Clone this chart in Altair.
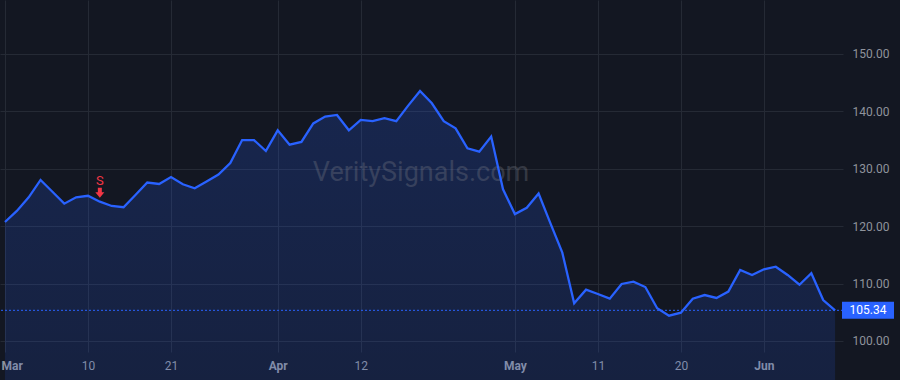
import altair as alt
import pandas as pd

# ---- data ----
prices = [120.73, 122.65, 125.03, 128.05, 126.0, 123.92, 125.03, 125.3, 124.27, 123.52,
          123.3, 125.44, 127.6, 127.35, 128.57, 127.3, 126.6, 127.8, 128.98, 131.0,
          135.0, 135.0, 133.1, 136.7, 134.2, 134.67, 137.9, 139.1, 139.37, 136.7,
          138.5, 138.3, 138.8, 138.3, 141.0, 143.55, 141.4, 138.3, 137.05, 133.57,
          132.98, 135.6, 126.43, 122.1, 123.2, 125.7, 120.5, 115.38, 106.57, 108.94,
          108.19, 107.37, 109.93, 110.33, 109.4, 105.7, 104.4, 104.93, 107.37, 108.0,
          107.5, 108.6, 112.37, 111.5, 112.49, 112.94, 111.5, 109.8, 111.8, 107.14,
          105.34]
tick_idx = [0, 7, 14, 23, 30, 43, 50, 57, 64]
tick_labels = ["Mar", "10", "21", "Apr", "12", "May", "11", "20", "Jun"]
month_labels = ["Mar", "Apr", "May", "Jun"]
y_ticks = [100, 110, 120, 130, 140, 150]
last_price = 105.34
signal_idx = [8]
signal_text = ["S"]
watermark = ["VeritySignals.com"]

# ---- styling ----
BG = "#131722"
GRID = "#252a35"
LINE = "#2962FF"
RED = "#f23645"
TXT = "#8f939c"
FONT = "Roboto"

df = pd.DataFrame({"i": list(range(len(prices))), "price": prices})
sig = pd.DataFrame({"i": signal_idx,
                    "price": [prices[k] for k in signal_idx],
                    "label": signal_text})
last_df = pd.DataFrame({"price": [last_price], "label": [f"{last_price:.2f}"]})
wm_df = pd.DataFrame({"label": watermark})

label_expr = " : ".join(f"datum.value == {v} ? '{t}'" for v, t in zip(tick_idx, tick_labels)) + " : ''"
bold_test = " || ".join(f"datum.value == {v}" for v, t in zip(tick_idx, tick_labels) if t in month_labels)

x_scale = alt.Scale(domain=[-0.42, 70.67], nice=False, zero=False)
y_scale = alt.Scale(domain=[98.08, 159.4], nice=False, zero=False)

x_enc = alt.X("i:Q", scale=x_scale, title=None,
              axis=alt.Axis(values=tick_idx, labelExpr=label_expr, grid=True,
                            gridColor=GRID, ticks=False, domain=False,
                            labelColor=TXT, labelFont=FONT, labelFontSize=12,
                            labelPadding=8,
                            labelFontWeight={"condition": {"test": bold_test, "value": "bold"},
                                             "value": "normal"},
                            labelFlush=6, labelFlushOffset=4))
y_enc = alt.Y("price:Q", scale=y_scale, title=None,
              axis=alt.Axis(orient="right", values=y_ticks, format=".2f", grid=True,
                            gridColor=GRID, ticks=False, domain=False,
                            labelColor=TXT, labelFont=FONT, labelFontSize=12,
                            labelPadding=9))

grad = alt.Gradient(gradient="linear",
                    stops=[alt.GradientStop(color="rgba(41,98,255,0.20)", offset=0),
                           alt.GradientStop(color="rgba(41,98,255,0.02)", offset=1)],
                    x1=1, x2=1, y1=0, y2=1)

area = alt.Chart(df).mark_area(color=grad).encode(x=x_enc, y=y_enc)

wm = alt.Chart(wm_df).mark_text(font=FONT, fontSize=27, color="#787b86", opacity=0.33,
                                align="center", baseline="alphabetic").encode(
    x=alt.value(421), y=alt.value(181), text="label:N")

line = alt.Chart(df).mark_line(color=LINE, strokeWidth=2.3).encode(x=x_enc, y=y_enc)

rule = alt.Chart(last_df).mark_rule(color=LINE, strokeWidth=1, strokeDash=[2, 2]).encode(y=y_enc)

box_path = "M-1,-0.327L1,-0.327L1,0.327L-1,0.327Z"
box = alt.Chart(last_df).mark_point(shape=box_path, size=2704, filled=True, color=LINE,
                                    opacity=1, strokeWidth=0).encode(
    x=alt.value(868), y=y_enc)
box_text = alt.Chart(last_df).mark_text(font=FONT, fontSize=12, color="white",
                                        align="center", baseline="middle").encode(
    x=alt.value(868), y=y_enc, text="label:N")

arrow_path = "M-0.4,-1L0.4,-1L0.4,-0.1L0.9,-0.1L0,1L-0.9,-0.1L-0.4,-0.1Z"
arrow = alt.Chart(sig).mark_point(shape=arrow_path, size=100, filled=True, color=RED,
                                  opacity=1, strokeWidth=0, yOffset=-9).encode(x=x_enc, y=y_enc)
s_text = alt.Chart(sig).mark_text(font=FONT, fontSize=13, color=RED, align="center",
                                  baseline="middle", dy=-21).encode(x=x_enc, y=y_enc, text="label:N")

chart = alt.layer(area, wm, line, rule, box, box_text, arrow, s_text).properties(
    width=843, height=352,
    padding={"left": 0, "right": 57, "top": 0, "bottom": 28},
    autosize=alt.AutoSizeParams(type="none"),
    background=BG,
).configure_view(stroke=None)

chart.save("out.html", embed_options={"renderer": "svg", "actions": False})
